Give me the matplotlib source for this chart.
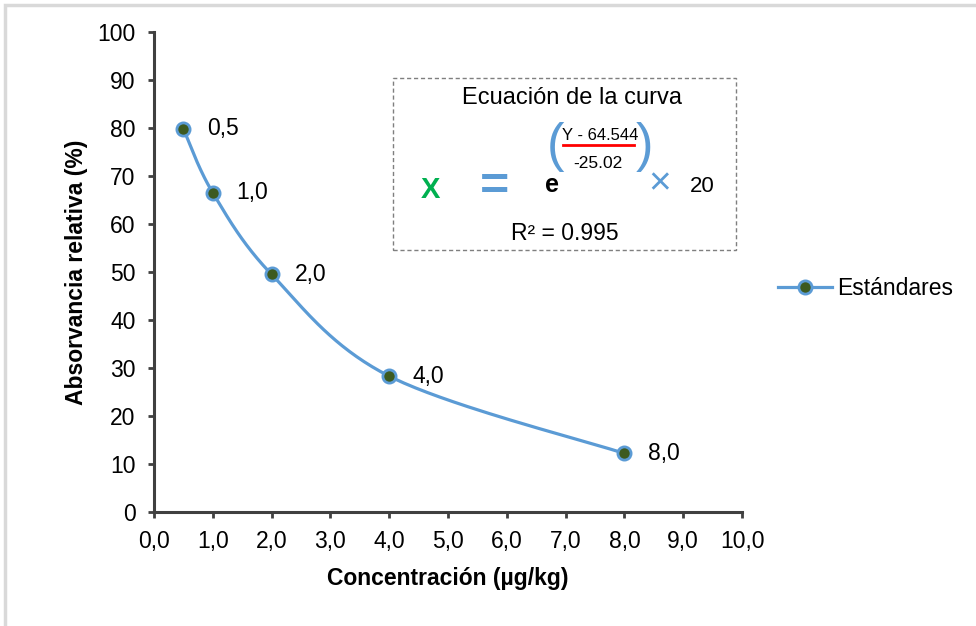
import numpy as np
import matplotlib
matplotlib.use("Agg")
import matplotlib.pyplot as plt
from matplotlib.patches import Rectangle

conc = [0.5, 1.0, 2.0, 4.0, 8.0]
absorb = [79.8, 66.5, 49.5, 28.3, 12.2]
point_labels = ["0,5", "1,0", "2,0", "4,0", "8,0"]
series_name = "Estándares"
x_ticks = [0, 1, 2, 3, 4, 5, 6, 7, 8, 9, 10]
y_ticks = [0, 10, 20, 30, 40, 50, 60, 70, 80, 90, 100]

plt.rcParams['font.family'] = ['Liberation Sans', 'DejaVu Sans']
FS = 16.5

W, H = 976, 626
fig = plt.figure(figsize=(W / 100, H / 100), dpi=100)
fig.patch.set_facecolor('white')

# outer light border
fig.add_artist(Rectangle((5 / W, -0.1), 1.2, (H - 5) / H + 0.1, transform=fig.transFigure,
                         fill=False, edgecolor='#d9d9d9', linewidth=2.5))

ax = fig.add_axes([154 / W, (H - 512) / H, (742 - 154) / W, (512 - 32) / H])
ax.set_xlim(0, 10)
ax.set_ylim(0, 100)

blue = '#5b9bd5'
dark = '#404040'

# Excel-style smoothed line (Bezier through points, computed in screen space)
pts = ax.transData.transform(np.column_stack([conc, absorb]))
n = len(pts)
curve = []
for i in range(n - 1):
    p0 = pts[i - 1] if i > 0 else pts[i]
    p1 = pts[i]
    p2 = pts[i + 1]
    p3 = pts[i + 2] if i + 2 < n else pts[i + 1]
    c1 = p1 + (p2 - p0) / 6.0
    c2 = p2 - (p3 - p1) / 6.0
    t = np.linspace(0, 1, 40)[:, None]
    seg = ((1 - t) ** 3) * p1 + 3 * ((1 - t) ** 2) * t * c1 + 3 * (1 - t) * t ** 2 * c2 + t ** 3 * p2
    curve.append(seg if i == 0 else seg[1:])
curve = np.vstack(curve)
curve_data = ax.transData.inverted().transform(curve)
ax.plot(curve_data[:, 0], curve_data[:, 1], color=blue, lw=2.3, zorder=2)
ax.plot(conc, absorb, linestyle='none', marker='o', markersize=9.5,
        markerfacecolor='#3d5a1f', markeredgecolor=blue, markeredgewidth=2, zorder=3)

# legend proxy
ax.plot([], [], color=blue, lw=2.3, marker='o', markersize=9.5,
        markerfacecolor='#3d5a1f', markeredgecolor=blue, markeredgewidth=2, label=series_name)
leg = fig.legend(loc='center left', bbox_to_anchor=(778 / W, (H - 289) / H), frameon=False,
                 fontsize=FS, handlelength=2.36, handletextpad=0.22,
                 borderaxespad=0, borderpad=0)

for xv, yv, lab in zip(conc, absorb, point_labels):
    ax.annotate(lab, (xv, yv), xytext=(17, 0), textcoords='offset points',
                fontsize=FS, va='center', ha='left', color='black')

ax.set_xticks(x_ticks)
ax.set_xticklabels([f"{v:.1f}".replace('.', ',') for v in x_ticks])
ax.set_yticks(y_ticks)
ax.set_yticklabels([str(v) for v in y_ticks])
ax.tick_params(axis='both', direction='out', length=4.3, width=2, color=dark,
               labelsize=FS, labelcolor='black', pad=9)
for s in ['top', 'right']:
    ax.spines[s].set_visible(False)
for s in ['left', 'bottom']:
    ax.spines[s].set_color(dark)
    ax.spines[s].set_linewidth(2.2)

ax.set_xlabel("Concentración (µg/kg)", fontsize=FS, fontweight='bold', labelpad=10)
ax.set_ylabel("Absorvancia relativa (%)", fontsize=FS, fontweight='bold', labelpad=7)

# equation box
def fx(px):
    return px / W

def fy(py):
    return (H - py) / H

fig.add_artist(Rectangle((fx(393), fy(250)), fx(736) - fx(393), fy(78) - fy(250),
                         transform=fig.transFigure, fill=False, edgecolor='#7f7f7f',
                         linewidth=1, linestyle=(0, (3, 2))))
fig.text(fx(572), fy(104), "Ecuación de la curva", fontsize=17, ha='center', va='baseline')
fig.text(fx(565), fy(240), "R² = 0.995", fontsize=FS, ha='center', va='baseline')

fig.text(fx(430), fy(198), "X", fontsize=21, fontweight='bold', color='#00b050',
         ha='center', va='baseline')
fig.text(fx(494), fy(188), "=", fontsize=36, fontweight='bold', color=blue,
         ha='center', va='center')
fig.text(fx(552), fy(192), "e", fontsize=18, fontweight='bold', color='black',
         ha='center', va='baseline')
fig.text(fx(555), fy(147), "(", fontsize=38, color=blue, ha='center', va='center')
fig.text(fx(644), fy(147), ")", fontsize=38, color=blue, ha='center', va='center')
fig.text(fx(600), fy(140), "Y - 64.544", fontsize=12, color='black', ha='center',
         va='baseline')
fig.add_artist(plt.Line2D([fx(563), fx(634)], [fy(145), fy(145)], transform=fig.transFigure,
                          color='#ff0000', lw=2))
fig.text(fx(598), fy(168), "-25.02", fontsize=12.5, color='black', ha='center',
         va='baseline')
fig.text(fx(660), fy(184), "×", fontsize=28, color=blue, ha='center', va='center')
fig.text(fx(702), fy(192), "20", fontsize=16, color='black', ha='center', va='baseline')

fig.savefig("out.png", dpi=100, facecolor='white')
